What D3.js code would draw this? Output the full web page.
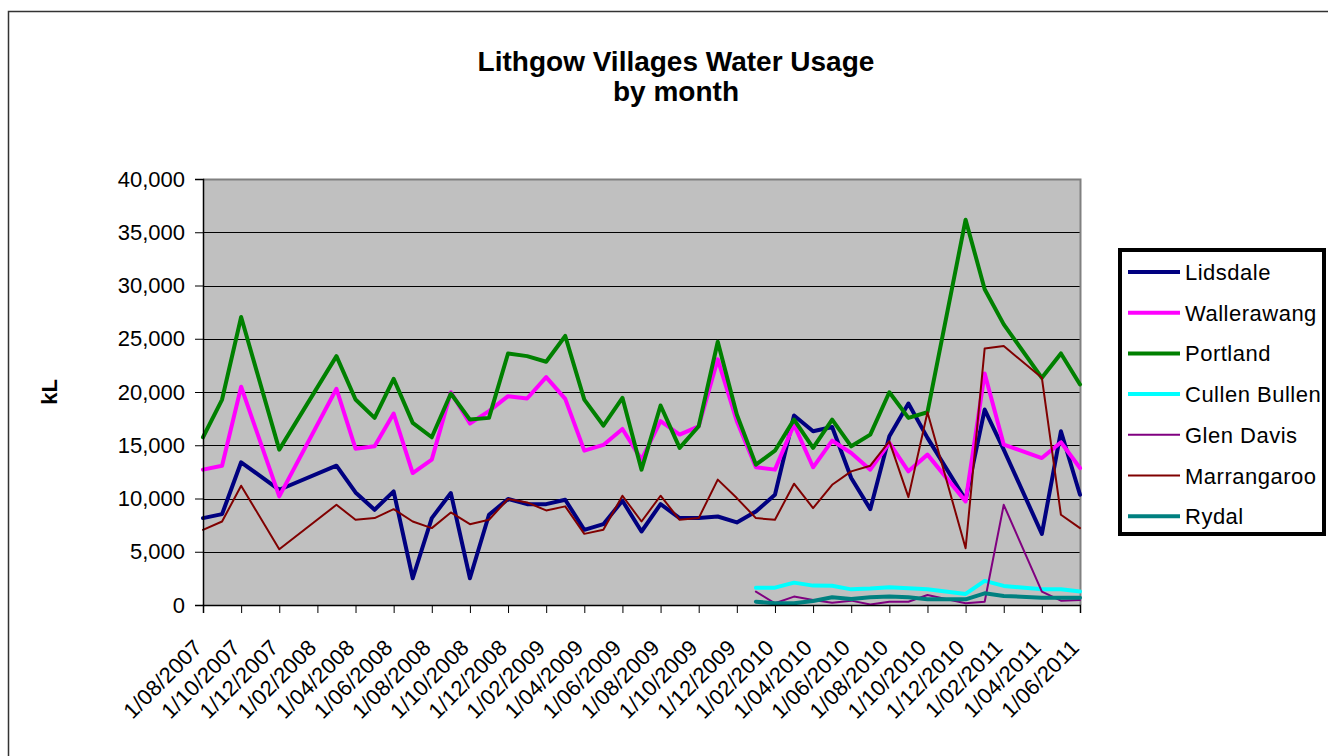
<!DOCTYPE html>
<html>
<head>
<meta charset="utf-8">
<script src="https://cdn.jsdelivr.net/npm/d3@7/dist/d3.min.js"></script>
<style>
  html, body { margin: 0; padding: 0; background: #fff; }
  svg { display: block; }
  text { font-family: "Liberation Sans", Arial, sans-serif; fill: #000; }
</style>
</head>
<body>
<svg id="chart" width="1328" height="756"></svg>
<script>
// ---- Data ----
const months = [
  "1/08/2007","1/09/2007","1/10/2007","1/11/2007","1/12/2007",
  "1/01/2008","1/02/2008","1/03/2008","1/04/2008","1/05/2008","1/06/2008","1/07/2008",
  "1/08/2008","1/09/2008","1/10/2008","1/11/2008","1/12/2008",
  "1/01/2009","1/02/2009","1/03/2009","1/04/2009","1/05/2009","1/06/2009","1/07/2009",
  "1/08/2009","1/09/2009","1/10/2009","1/11/2009","1/12/2009",
  "1/01/2010","1/02/2010","1/03/2010","1/04/2010","1/05/2010","1/06/2010","1/07/2010",
  "1/08/2010","1/09/2010","1/10/2010","1/11/2010","1/12/2010",
  "1/01/2011","1/02/2011","1/03/2011","1/04/2011","1/05/2011","1/06/2011"
];
const tickLabels = [
  "1/08/2007","1/10/2007","1/12/2007","1/02/2008","1/04/2008","1/06/2008",
  "1/08/2008","1/10/2008","1/12/2008","1/02/2009","1/04/2009","1/06/2009",
  "1/08/2009","1/10/2009","1/12/2009","1/02/2010","1/04/2010","1/06/2010",
  "1/08/2010","1/10/2010","1/12/2010","1/02/2011","1/04/2011","1/06/2011"
];
const yTicks = [0, 5000, 10000, 15000, 20000, 25000, 30000, 35000, 40000];

const lidsdale = [8160,8530,13400,null,10820,null,null,13080,10570,8940,10670,2510,
  8160,10510,2510,8470,9950,9470,9470,9880,7060,7590,9790,6900,
  9470,8160,8160,8310,7750,8780,10350,17790,16310,16720,11920,9000,
  15840,18920,15690,null,9880,18350,14590,null,6680,16310,10350];
const wallerawang = [12710,13080,20490,null,10200,null,null,20300,14680,14900,17980,12390,
  13650,19980,17040,18200,19610,19390,21400,19360,14490,15030,16530,13650,
  17260,16000,16780,23060,17260,12930,12710,16940,12930,15440,14270,12710,
  15220,12550,14120,null,9730,21740,15060,null,13800,15280,12860];
const portland = [15750,19290,27040,null,14590,null,null,23370,19290,17570,21240,17100,
  15750,19860,17410,17570,23620,23370,22840,25260,19290,16850,19450,12710,
  18730,14750,16780,24720,17880,13180,14490,17410,14750,17410,14900,16000,
  19980,17570,18100,null,36180,29650,26350,null,21330,23620,20710];
const cullenBullen = [null,null,null,null,null,null,null,null,null,null,null,null,
  null,null,null,null,null,null,null,null,null,null,null,null,
  null,null,null,null,null,1630,1630,2100,1820,1800,1470,1540,
  1660,1570,1470,null,1040,2260,1790,null,1470,1470,1260];
const glenDavis = [null,null,null,null,null,null,null,null,null,null,null,null,
  null,null,null,null,null,null,null,null,null,null,null,null,
  null,null,null,null,null,1260,160,790,470,220,410,50,
  310,310,940,null,160,310,9410,null,1260,410,470];
const marrangaroo = [7060,7840,11200,null,5240,null,null,9410,8000,8160,9000,7840,
  7220,8690,7590,8000,9950,9630,8880,9260,6680,7060,10260,7840,
  10260,8000,8160,11770,10040,8160,8000,11390,9100,11290,12550,13080,
  15370,10130,18100,null,5330,24090,24310,null,21330,8470,7220];
const rydal = [null,null,null,null,null,null,null,null,null,null,null,null,
  null,null,null,null,null,null,null,null,null,null,null,null,
  null,null,null,null,null,310,160,160,380,720,570,720,
  790,720,530,null,530,1100,850,null,690,690,690];

const seriesNames = ["Lidsdale","Wallerawang","Portland","Cullen Bullen","Glen Davis","Marrangaroo","Rydal"];
const seriesValues = [lidsdale, wallerawang, portland, cullenBullen, glenDavis, marrangaroo, rydal];
const seriesColors = ["#000080","#FF00FF","#008000","#00FFFF","#800080","#800000","#008080"];
const seriesWidths = [4, 4, 4, 4, 2, 2, 4];

// ---- Layout ----
const svg = d3.select("#chart");
const L = 203, R = 1080, T = 179, B = 605;

// outer chart border
svg.append("rect").attr("x", 8.5).attr("y", 11.5).attr("width", 1340).attr("height", 800)
  .attr("fill", "#fff").attr("stroke", "#333").attr("stroke-width", 1.5);

const x = d3.scalePoint().domain(months).range([L, R]);
const y = d3.scaleLinear().domain([0, 40000]).range([B, T]);

// plot area
svg.append("rect").attr("x", L).attr("y", T).attr("width", R - L).attr("height", B - T)
  .attr("fill", "#C0C0C0");

// gridlines
svg.append("g").selectAll("line").data(yTicks.filter(d => d > 0 && d < 40000)).join("line")
  .attr("x1", L).attr("x2", R)
  .attr("y1", d => Math.round(y(d)) + 0.5).attr("y2", d => Math.round(y(d)) + 0.5)
  .attr("stroke", "#000").attr("stroke-width", 1);

// top & right borders of plot area
svg.append("path")
  .attr("d", `M${L},${T + 0.5}H${R + 0.5}V${B}`)
  .attr("fill", "none").attr("stroke", "#808080").attr("stroke-width", 2);

// series lines
const line = d3.line().x(d => x(d.m)).y(d => y(d.v));
seriesNames.forEach((name, i) => {
  const pts = months.map((m, j) => ({ m, v: seriesValues[i][j] })).filter(d => d.v != null);
  svg.append("path").datum(pts)
    .attr("d", line)
    .attr("fill", "none")
    .attr("stroke", seriesColors[i])
    .attr("stroke-width", seriesWidths[i])
    .attr("stroke-linejoin", "round")
    .attr("stroke-linecap", "round");
});

// y axis
const yAxis = d3.axisLeft(y).tickValues(yTicks).tickSize(8).tickPadding(10)
  .tickFormat(d3.format(","));
const gy = svg.append("g").attr("transform", `translate(${L},0)`).call(yAxis);
gy.select(".domain").attr("stroke", "#000").attr("stroke-width", 1.5);
gy.selectAll(".tick line").attr("stroke", "#000");
gy.selectAll(".tick text").style("font-size", "22px").style("font-family", "'Liberation Sans', Arial, sans-serif");

// x axis
const xAxis = d3.axisBottom(x).tickValues(tickLabels).tickSize(8).tickFormat(d => d);
const gx = svg.append("g").attr("transform", `translate(0,${B})`).call(xAxis);
gx.select(".domain").attr("stroke", "#000").attr("stroke-width", 1.5);
gx.selectAll(".tick line").attr("stroke", "#000");
gx.selectAll(".tick text")
  .attr("text-anchor", "end")
  .attr("dy", null).attr("y", null)
  .attr("transform", "translate(0,44) rotate(-45)")
  .style("font-size", "22px")
  .style("letter-spacing", "0.3px")
  .style("font-family", "'Liberation Sans', Arial, sans-serif");

// y axis title
svg.append("text").attr("transform", "translate(57,392) rotate(-90)")
  .attr("text-anchor", "middle")
  .style("font-size", "22px").style("font-weight", "bold").text("kL");

// title
svg.append("text").attr("x", 676).attr("y", 71).attr("text-anchor", "middle")
  .style("font-size", "28px").style("font-weight", "bold").text("Lithgow Villages Water Usage");
svg.append("text").attr("x", 676).attr("y", 101).attr("text-anchor", "middle")
  .style("font-size", "28px").style("font-weight", "bold").text("by month");

// legend
const lg = svg.append("g");
lg.append("rect").attr("x", 1120).attr("y", 250).attr("width", 204).attr("height", 284)
  .attr("fill", "#fff").attr("stroke", "#000").attr("stroke-width", 4);
seriesNames.forEach((name, i) => {
  const cy = 272 + i * 40.7;
  lg.append("line").attr("x1", 1128).attr("x2", 1180).attr("y1", cy).attr("y2", cy)
    .attr("stroke", seriesColors[i]).attr("stroke-width", seriesWidths[i]);
  lg.append("text").attr("x", 1185).attr("y", cy + 8)
    .style("font-size", "22px").style("letter-spacing", "0.5px").text(name);
});
</script>
</body>
</html>
